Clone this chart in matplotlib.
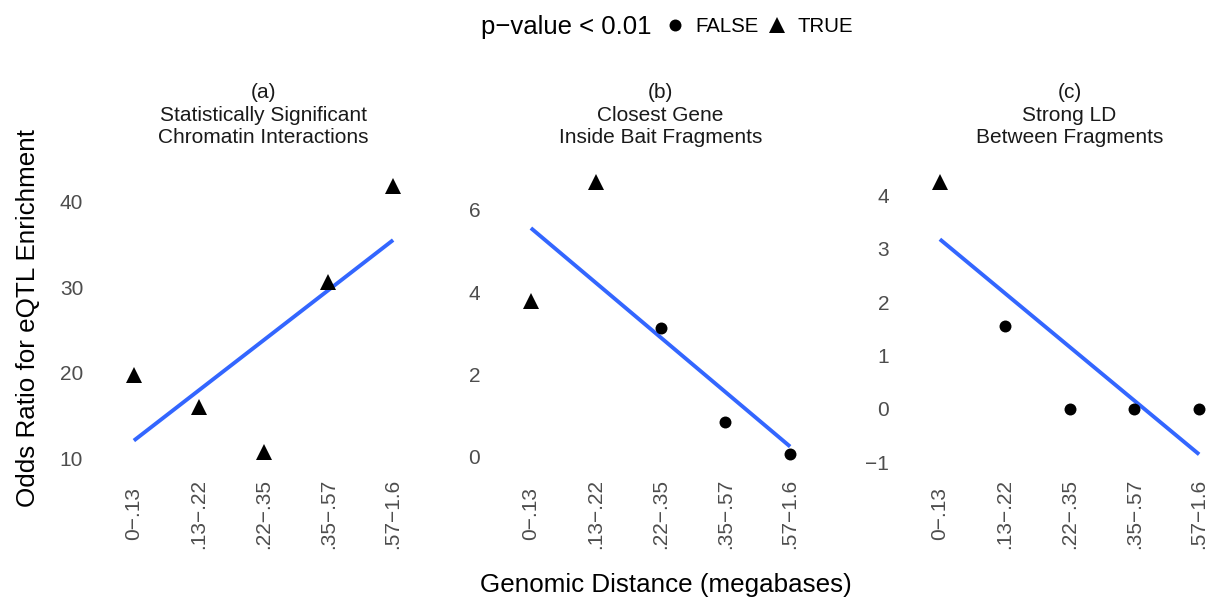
import numpy as np
import matplotlib
matplotlib.use("Agg")
import matplotlib.pyplot as plt
from matplotlib import transforms

plt.rcParams['font.family'] = ['Liberation Sans', 'DejaVu Sans']
plt.rcParams['axes.unicode_minus'] = True

# ---- data ----
categories = ["0\u2212.13", ".13\u2212.22", ".22\u2212.35", ".35\u2212.57", ".57\u22121.6"]
panel_titles = [["(a)", "Statistically Significant", "Chromatin Interactions"],
                ["(b)", "Closest Gene", "Inside Bait Fragments"],
                ["(c)", "Strong LD", "Between Fragments"]]
odds_a = [19.8, 16.1, 10.8, 30.6, 41.7]
odds_b = [3.78, 6.69, 3.13, 0.85, 0.05]
odds_c = [4.26, 1.56, 0.0, 0.0, 0.0]
signif_a = [True, True, True, True, True]
signif_b = [True, True, False, False, False]
signif_c = [True, False, False, False, False]
yticks = [[10, 20, 30, 40], [0, 2, 4, 6], [-1, 0, 1, 2, 3, 4]]

series = [odds_a, odds_b, odds_c]
signifs = [signif_a, signif_b, signif_c]
ylims = [(8.95, 43.84), None, None]

W, H = 1212, 601
fig = plt.figure(figsize=(W / 100, H / 100), dpi=100)

lefts = [95, 492, 901]
pw = 337
top_px, bot_px = 168, 468
TICK_COL = "#4D4D4D"
BLUE = "#3366FF"
circ_ms, tri_ms = 8.6, 11.0

for i in range(3):
    ax = fig.add_axes([lefts[i] / W, (H - bot_px) / H, pw / W, (bot_px - top_px) / H])
    y = np.array(series[i], dtype=float)
    s = np.array(signifs[i])
    x = np.arange(1, len(categories) + 1)
    # regression line (lm)
    k, b0 = np.polyfit(x, y, 1)
    xl = np.array([x[0], x[-1]])
    yl = k * xl + b0
    ax.plot(xl, yl, color=BLUE, lw=2.8, solid_capstyle='butt', zorder=2)
    ax.plot(x[~s], y[~s], 'o', color='black', ms=circ_ms, mew=0, zorder=3)
    ax.plot(x[s], y[s], '^', color='black', ms=tri_ms, mew=0, zorder=3)
    if ylims[i] is not None:
        ax.set_ylim(*ylims[i])
    else:
        lo = min(y.min(), yl.min()); hi = max(y.max(), yl.max())
        r = hi - lo
        ax.set_ylim(lo - 0.05 * r, hi + 0.05 * r)
    ax.set_xlim(0.4, len(categories) + 0.6)
    ax.set_xticks(x)
    ax.set_xticklabels(categories, rotation=90, va='center', ha='center')
    ax.set_yticks(yticks[i])
    ax.tick_params(axis='x', length=0, pad=33, labelsize=15, colors=TICK_COL)
    ax.tick_params(axis='y', length=0, pad=8.5, labelsize=15, colors=TICK_COL)
    for sp in ax.spines.values():
        sp.set_visible(False)
    ax.set_facecolor('none')
    tr = transforms.blended_transform_factory(ax.transAxes, fig.transFigure)
    for txt, yb in zip(panel_titles[i], [98, 121, 143]):
        ax.text(0.5, 1 - yb / H, txt, transform=tr, ha='center', va='baseline',
                fontsize=15, color='#1A1A1A')

# overlay for titles and legend
lax = fig.add_axes([0, 0, 1, 1])
lax.set_xlim(0, W); lax.set_ylim(H, 0); lax.axis('off')
lax.patch.set_alpha(0)

lax.text(35, 318, "Odds Ratio for eQTL Enrichment", rotation=90, rotation_mode='anchor',
         ha='center', va='baseline', fontsize=18.7, color='black')
lax.text(666, 592, "Genomic Distance (megabases)", ha='center', va='baseline',
         fontsize=18.7, color='black')

lax.text(481, 34, "p\u2212value < 0.01", ha='left', va='baseline', fontsize=18.5, color='black')
lax.plot([675], [25], 'o', color='black', ms=circ_ms, mew=0)
lax.text(695, 32, "FALSE", ha='left', va='baseline', fontsize=14.7, color='black')
lax.plot([777], [25], '^', color='black', ms=tri_ms, mew=0)
lax.text(797, 32, "TRUE", ha='left', va='baseline', fontsize=14.7, color='black')

fig.savefig("out.png", dpi=100, facecolor='white')
